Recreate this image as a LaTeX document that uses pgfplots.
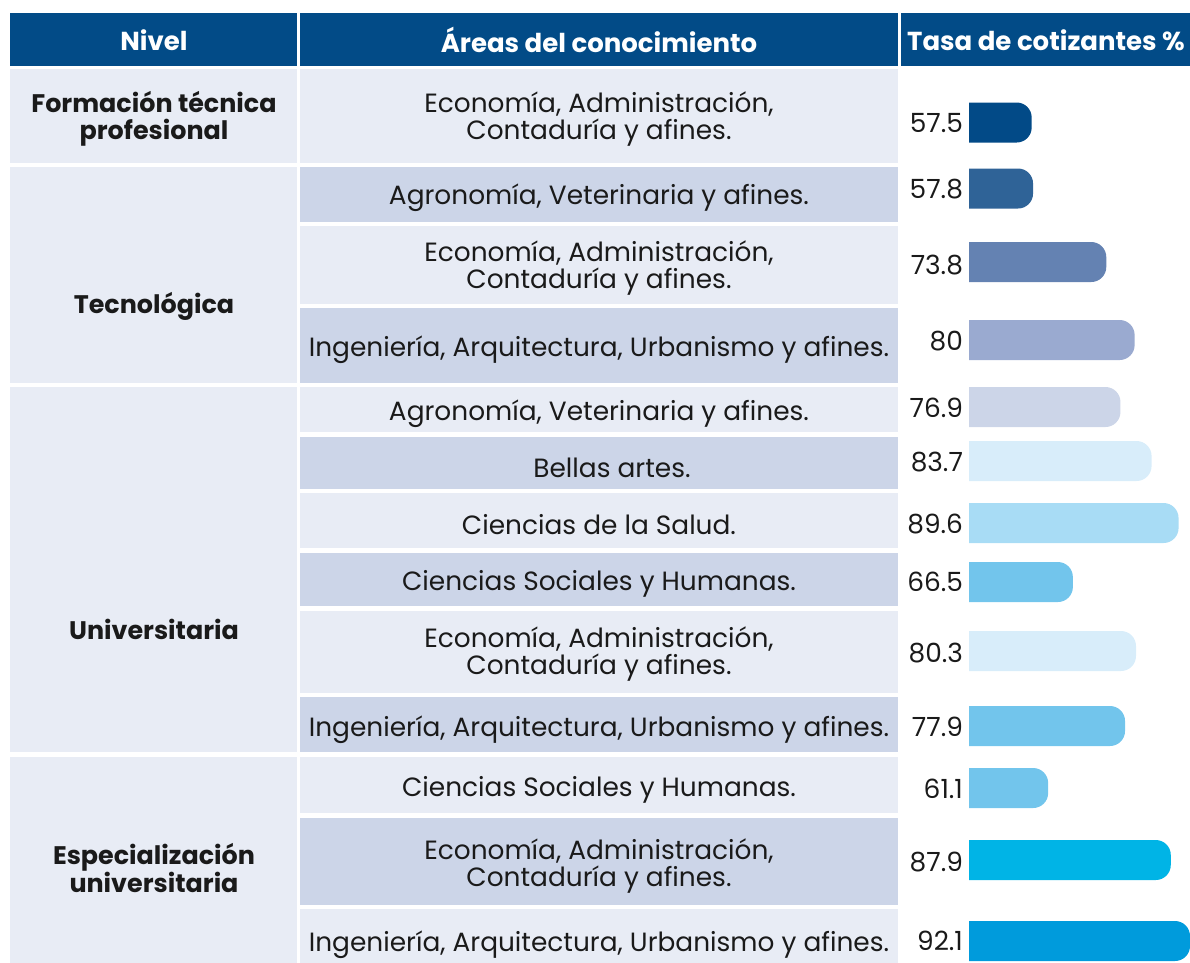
\documentclass[border=0pt]{standalone}
\usepackage{pgfplots}
\pgfplotsset{compat=1.18}
\usepackage{fontspec}
\setmainfont{Poppins}
\definecolor{hdr}{HTML}{024B87}
\definecolor{cl}{HTML}{E8ECF5}
\definecolor{cd}{HTML}{CCD5E8}
\definecolor{b1}{HTML}{024A87}
\definecolor{b2}{HTML}{2F6397}
\definecolor{b3}{HTML}{6482B2}
\definecolor{b4}{HTML}{9AAAD0}
\definecolor{b5}{HTML}{CCD5E8}
\definecolor{b6}{HTML}{D8EDFA}
\definecolor{b7}{HTML}{A8DCF5}
\definecolor{b8}{HTML}{72C5EC}
\definecolor{b9}{HTML}{00B4E6}
\definecolor{b10}{HTML}{009BDC}
\definecolor{txt}{HTML}{1A1A1A}
\newcommand{\tf}{\fontsize{13.2}{13.6}\selectfont\color{txt}}
\newcommand{\bff}{\fontsize{12.7}{13.6}\selectfont\bfseries\color{txt}}
\newcommand{\hf}{\fontsize{13}{14}\selectfont\bfseries}
\begin{document}
\begin{tikzpicture}
\useasboundingbox (0,0) rectangle (595pt,-481.5pt);
\begin{axis}[at={(0,0)}, anchor=north west, scale only axis, width=595pt, height=481.5pt,
  xmin=0, xmax=1190, ymin=0, ymax=963, y dir=reverse, hide axis, clip=false]
% header
\fill[hdr] (axis cs:10,13) rectangle (axis cs:297,66);
\fill[hdr] (axis cs:300,13) rectangle (axis cs:898,66);
\fill[hdr] (axis cs:901,13) rectangle (axis cs:1190,66);
% left column
\fill[cl] (axis cs:10,69) rectangle (axis cs:297,163);
\fill[cl] (axis cs:10,167) rectangle (axis cs:297,383);
\fill[cl] (axis cs:10,387) rectangle (axis cs:297,752);
\fill[cl] (axis cs:10,757) rectangle (axis cs:297,963);
% middle column
\fill[cl] (axis cs:300,69) rectangle (axis cs:898,163);
\fill[cd] (axis cs:300,167) rectangle (axis cs:898,222);
\fill[cl] (axis cs:300,226) rectangle (axis cs:898,304);
\fill[cd] (axis cs:300,308) rectangle (axis cs:898,383);
\fill[cl] (axis cs:300,387) rectangle (axis cs:898,432);
\fill[cd] (axis cs:300,437) rectangle (axis cs:898,489);
\fill[cl] (axis cs:300,493) rectangle (axis cs:898,548);
\fill[cd] (axis cs:300,553) rectangle (axis cs:898,606);
\fill[cl] (axis cs:300,611) rectangle (axis cs:898,693);
\fill[cd] (axis cs:300,697) rectangle (axis cs:898,752);
\fill[cl] (axis cs:300,757) rectangle (axis cs:898,813);
\fill[cd] (axis cs:300,818) rectangle (axis cs:898,905);
\fill[cl] (axis cs:300,909) rectangle (axis cs:898,963);
% header text
\node[text=white, font=\hf] at (axis cs:154,40) {Nivel};
\node[text=white, font=\hf] at (axis cs:599,40) {Áreas del conocimiento};
\node[text=white, font=\hf] at (axis cs:1046,40) {Tasa de cotizantes \%};
% left labels
\node[font=\bff, align=center] at (axis cs:154,119) {Formación técnica\\profesional};
\node[font=\bff, align=center] at (axis cs:154,306) {Tecnológica};
\node[font=\bff, align=center] at (axis cs:154,629) {Universitaria};
\node[font=\bff, align=center] at (axis cs:154,868) {Especialización\\universitaria};
% middle labels
\node[font=\tf, align=center] at (axis cs:599,119) {Economía, Administración,\\Contaduría y afines.};
\node[font=\tf, align=center] at (axis cs:599,198) {Agronomía, Veterinaria y afines.};
\node[font=\tf, align=center] at (axis cs:599,268) {Economía, Administración,\\Contaduría y afines.};
\node[font=\tf, align=center] at (axis cs:599,350) {Ingeniería, Arquitectura, Urbanismo y afines.};
\node[font=\tf, align=center] at (axis cs:599,414) {Agronomía, Veterinaria y afines.};
\node[font=\tf, align=center] at (axis cs:612,468) {Bellas artes.};
\node[font=\tf, align=center] at (axis cs:599,525) {Ciencias de la Salud.};
\node[font=\tf, align=center] at (axis cs:599,584) {Ciencias Sociales y Humanas.};
\node[font=\tf, align=center] at (axis cs:599,654) {Economía, Administración,\\Contaduría y afines.};
\node[font=\tf, align=center] at (axis cs:599,730) {Ingeniería, Arquitectura, Urbanismo y afines.};
\node[font=\tf, align=center] at (axis cs:599,790) {Ciencias Sociales y Humanas.};
\node[font=\tf, align=center] at (axis cs:599,866) {Economía, Administración,\\Contaduría y afines.};
\node[font=\tf, align=center] at (axis cs:599,945) {Ingeniería, Arquitectura, Urbanismo y afines.};
% value labels
\node[font=\tf, anchor=east] at (axis cs:970,123) {57.5};
\node[font=\tf, anchor=east] at (axis cs:970,189) {57.8};
\node[font=\tf, anchor=east] at (axis cs:970,265) {73.8};
\node[font=\tf, anchor=east] at (axis cs:970,341) {80};
\node[font=\tf, anchor=east] at (axis cs:970,408) {76.9};
\node[font=\tf, anchor=east] at (axis cs:970,462) {83.7};
\node[font=\tf, anchor=east] at (axis cs:970,524) {89.6};
\node[font=\tf, anchor=east] at (axis cs:970,582) {66.5};
\node[font=\tf, anchor=east] at (axis cs:970,653) {80.3};
\node[font=\tf, anchor=east] at (axis cs:970,727) {77.9};
\node[font=\tf, anchor=east] at (axis cs:970,789) {61.1};
\node[font=\tf, anchor=east] at (axis cs:970,862) {87.9};
\node[font=\tf, anchor=east] at (axis cs:970,941) {92.1};
\end{axis}
\begin{scope}
\clip (484.5pt,0) rectangle (595pt,-481.5pt);
\begin{axis}[at={(474.5pt,0)}, anchor=north west, scale only axis, width=120.5pt, height=481.5pt,
  xmin=39.43, xmax=92.1, ymin=0, ymax=963, y dir=reverse, hide axis, clip=false,
  xbar, bar shift=0pt, bar width=20pt]
\addplot[fill=b1, draw=none, rounded corners=7.5pt] coordinates {(57.5,122.5)};
\addplot[fill=b2, draw=none, rounded corners=7.5pt] coordinates {(57.8,188.5)};
\addplot[fill=b3, draw=none, rounded corners=7.5pt] coordinates {(73.8,262)};
\addplot[fill=b4, draw=none, rounded corners=7.5pt] coordinates {(80,340)};
\addplot[fill=b5, draw=none, rounded corners=7.5pt] coordinates {(76.9,407)};
\addplot[fill=b6, draw=none, rounded corners=7.5pt] coordinates {(83.7,461)};
\addplot[fill=b7, draw=none, rounded corners=7.5pt] coordinates {(89.6,523)};
\addplot[fill=b8, draw=none, rounded corners=7.5pt] coordinates {(66.5,582)};
\addplot[fill=b6, draw=none, rounded corners=7.5pt] coordinates {(80.3,651)};
\addplot[fill=b8, draw=none, rounded corners=7.5pt] coordinates {(77.9,726)};
\addplot[fill=b8, draw=none, rounded corners=7.5pt] coordinates {(61.1,788)};
\addplot[fill=b9, draw=none, rounded corners=7.5pt] coordinates {(87.9,860)};
\addplot[fill=b10, draw=none, rounded corners=7.5pt] coordinates {(92.1,941)};
\end{axis}
\end{scope}
\end{tikzpicture}
\end{document}
